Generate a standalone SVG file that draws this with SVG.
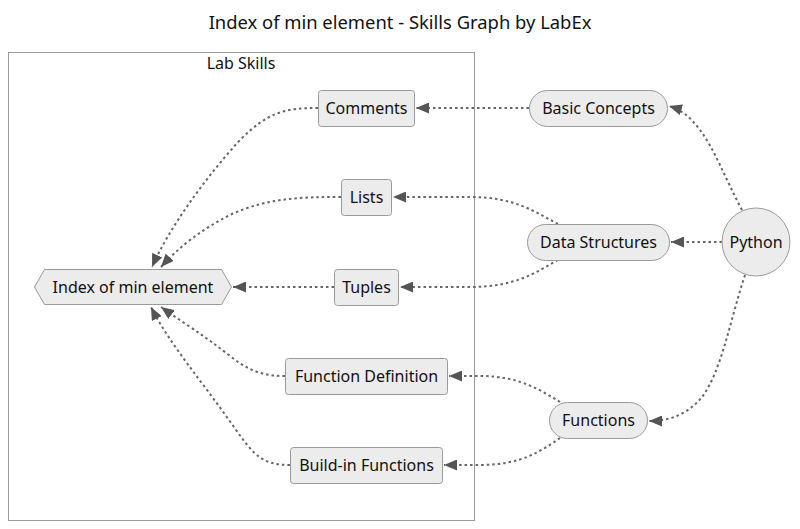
<svg xmlns="http://www.w3.org/2000/svg" width="800" height="529" viewBox="0 0 800 529">
<style>
text{font-family:"Noto Sans","Open Sans","Liberation Sans",sans-serif;fill:#111;}
.lbl{font-size:16px;text-anchor:middle;dominant-baseline:central;}
.node{fill:#ececec;stroke:#9a9a9a;stroke-width:1;}
.edge{fill:none;stroke:#666;stroke-width:2;stroke-dasharray:2.5 3;}
</style>
<defs>
<marker id="arr" viewBox="0 0 13 11" refX="13" refY="5.5" markerWidth="13" markerHeight="11" markerUnits="userSpaceOnUse" orient="auto">
<path d="M0,0 L13,5.5 L0,11 z" fill="#555"/>
</marker>
</defs>
<rect width="800" height="529" fill="#fff"/>
<text x="400" y="21" font-size="18.4" text-anchor="middle" dominant-baseline="central">Index of min element - Skills Graph by LabEx</text>
<g id="cluster-lab-skills">
<rect x="8.5" y="52.5" width="466" height="468" fill="#fff" stroke="#9a9a9a"/>
<text x="241" y="63" font-size="16" text-anchor="middle" dominant-baseline="central">Lab Skills</text>
</g>
<g id="connectors">
<path class="edge" marker-end="url(#arr)" d="M529,108 L416,108"/>
<path class="edge" marker-end="url(#arr)" d="M558,224 C535,212 515,197 470,197 L393,197"/>
<path class="edge" marker-end="url(#arr)" d="M558,260 C535,273 515,287 470,287 L400,287"/>
<path class="edge" marker-end="url(#arr)" d="M722,242 L671,242"/>
<path class="edge" marker-end="url(#arr)" d="M742,210 C725,178 715,150 700,130 C690,117 682,110 669,106"/>
<path class="edge" marker-end="url(#arr)" d="M745,275 C730,320 722,370 702,397 C688,414 670,421 649,421"/>
<path class="edge" marker-end="url(#arr)" d="M560,402 C540,390 520,376 480,376 L449,376"/>
<path class="edge" marker-end="url(#arr)" d="M560,438 C540,452 520,465 480,465 L444,465"/>
<path class="edge" marker-end="url(#arr)" d="M318,108 C285,108 268,112 240,140 C205,178 168,230 152,267"/>
<path class="edge" marker-end="url(#arr)" d="M341,197 C300,197 268,198 232,214 C200,230 178,248 161,267"/>
<path class="edge" marker-end="url(#arr)" d="M334,287 L233,287"/>
<path class="edge" marker-end="url(#arr)" d="M285,376 C265,376 250,372 230,356 C205,336 182,322 161,307"/>
<path class="edge" marker-end="url(#arr)" d="M290,465 C262,465 254,455 236,430 C205,385 170,345 151,307"/>
</g>
<g id="node-comments">
<rect class="node" x="318.5" y="90.5" width="96" height="36" rx="3"/>
<text class="lbl" x="366.5" y="108">Comments</text>
</g>
<g id="node-lists">
<rect class="node" x="341.5" y="179.5" width="50" height="36" rx="3"/>
<text class="lbl" x="366.5" y="197">Lists</text>
</g>
<g id="node-tuples">
<rect class="node" x="334.5" y="269.5" width="64" height="36" rx="3"/>
<text class="lbl" x="366.5" y="287">Tuples</text>
</g>
<g id="node-function-definition">
<rect class="node" x="285.5" y="358.5" width="162" height="36" rx="3"/>
<text class="lbl" x="366.5" y="376">Function Definition</text>
</g>
<g id="node-build-in-functions">
<rect class="node" x="290.5" y="447.5" width="152" height="36" rx="3"/>
<text class="lbl" x="366.5" y="465">Build-in Functions</text>
</g>
<g id="node-index-of-min-element">
<polygon class="node" points="34.5,287 44.5,269.5 221.5,269.5 231.5,287 221.5,304.5 44.5,304.5"/>
<text class="lbl" x="133" y="287">Index of min element</text>
</g>
<g id="node-basic-concepts">
<rect class="node" x="529.5" y="90.5" width="138" height="36" rx="18"/>
<text class="lbl" x="598.5" y="108">Basic Concepts</text>
</g>
<g id="node-data-structures">
<rect class="node" x="527.5" y="224.5" width="142" height="36" rx="18"/>
<text class="lbl" x="598.5" y="242">Data Structures</text>
</g>
<g id="node-functions">
<rect class="node" x="549.5" y="402.5" width="98" height="36" rx="18"/>
<text class="lbl" x="598.5" y="420">Functions</text>
</g>
<g id="node-python">
<circle class="node" cx="756" cy="242" r="34"/>
<text class="lbl" x="756" y="242">Python</text>
</g>
</svg>
